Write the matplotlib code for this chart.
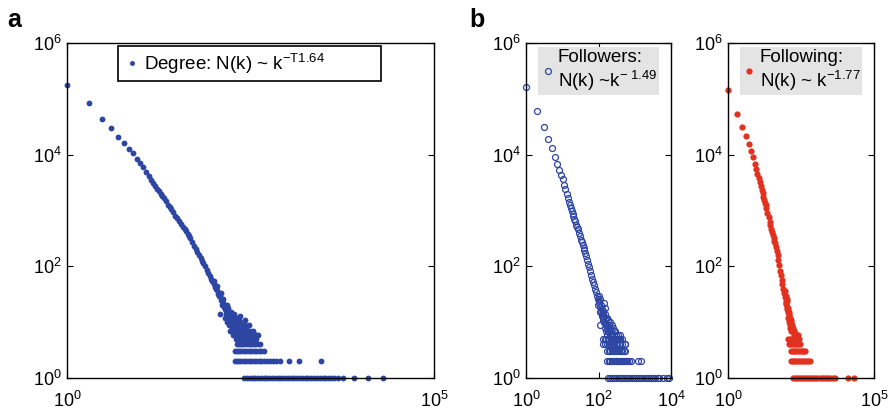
import matplotlib
matplotlib.use('Agg')
import matplotlib.pyplot as plt

plt.rcParams['font.family'] = ['Liberation Sans', 'DejaVu Sans']
plt.rcParams['mathtext.fontset'] = 'custom'
plt.rcParams['mathtext.rm'] = 'Liberation Sans'
plt.rcParams['mathtext.it'] = 'Liberation Sans:italic'
plt.rcParams['mathtext.bf'] = 'Liberation Sans:bold'

BLUE = '#2d46a4'
RED = '#e2321f'

# ---- panel a: degree ----
deg_curve_k = [1, 2, 3, 4, 5, 6, 7, 8, 9, 10, 11, 12, 13, 14, 15, 16, 17, 18, 19, 20, 21, 22,
               24, 25, 26, 28, 30, 32, 34, 36, 38, 40, 42, 44, 46, 48,
               51, 54, 57, 60, 63, 66, 69, 72, 76, 80, 84, 88, 92, 96, 100,
               105, 110, 115, 120, 126, 132, 138, 145, 152, 160, 168, 176, 185]
deg_curve_n = [178000, 83000, 43000, 30000, 21000, 16500, 12800, 10700, 8500, 7100,
               5900, 4900, 4200, 3550, 3100, 2750, 2450, 2200, 2000, 1800, 1650, 1500,
               1270, 1170, 1080, 930, 800, 720, 640, 570, 510, 465, 425, 385, 350, 316,
               275, 235, 205, 178, 160, 142, 126, 115, 100, 87, 77, 68, 60, 54, 48,
               42, 37, 32, 29, 25, 22, 19, 16, 14, 12, 11, 9, 8]
deg_scatter_k = [100, 108, 112, 120, 125, 130, 135, 140, 148, 155, 160, 165, 170, 175, 180,
                 190, 195, 200, 210, 215, 220, 230, 240, 250, 260, 275, 290, 310, 330, 360, 390,
                 118, 128, 140, 150, 150, 158, 165, 172, 182, 185, 188, 198, 205, 212, 225,
                 230, 235, 245, 255, 265, 270, 280, 300, 320, 345, 370, 400]
deg_scatter_n = [55, 40, 45, 14, 33, 20, 26, 17, 14, 18, 9, 13, 15, 8, 11,
                 12, 7, 10, 9, 6, 11, 8, 7, 9, 6, 8, 6, 7, 6, 6, 6,
                 30, 24, 12, 10, 20, 16, 7, 12, 9, 6, 14, 8, 12, 7, 10,
                 13, 6, 8, 7, 9, 11, 7, 9, 6, 7, 6, 6]
deg_row_levels = [5, 4, 3, 2, 1]
deg_rows = [
    [200, 210, 222, 235, 248, 262, 278, 295, 315, 335, 355, 380],
    [205, 218, 232, 246, 262, 280, 300, 322, 345, 370, 398, 425],
    [195, 208, 222, 238, 255, 275, 298, 322, 348, 378, 410, 445, 480],
    [195, 208, 222, 238, 256, 276, 298, 322, 348, 378, 410, 445, 485, 530, 580, 640, 700,
     800, 1070, 1450, 2880],
    [260, 285, 310, 340, 370, 400, 440, 480, 520, 570, 620, 680, 740, 810, 880, 960, 1050,
     1150, 1250, 1370, 1500, 1640, 1790, 1950, 2130, 2330, 2550, 2780, 3040, 3320, 3630,
     3970, 4340, 4900, 5700, 8100, 12500, 20400],
]

# ---- panel b, left: followers ----
fol_curve_k = [1, 2, 3, 4, 5, 6, 7, 8, 9, 10, 11, 12, 13, 14, 15, 16, 17, 18, 19, 20, 21, 22,
               24, 25, 26, 28, 30, 32, 34, 36, 38, 40, 42, 45, 48,
               51, 54, 58, 62, 66, 70, 75, 80, 85, 90, 96, 102, 108, 115, 122, 130, 138, 146,
               155, 165]
fol_curve_n = [166000, 60000, 31600, 19000, 12900, 9100, 6800, 5400, 4400, 3600,
               2920, 2390, 1990, 1680, 1430, 1235, 1095, 973, 869, 785, 711, 648,
               542, 498, 459, 396, 344, 302, 268, 239, 214, 193, 175, 153, 131,
               112, 98, 82, 69, 60, 53, 46, 40, 35, 30, 26, 22, 19, 16, 13, 11, 10, 8, 7, 6]
fol_scatter_k = [95, 105, 107, 110, 118, 125, 128, 135, 138, 145, 148, 155, 160, 170,
                 180, 185, 195, 200, 210, 224, 235, 250, 270, 290, 320, 355, 400, 525,
                 100, 112, 120, 130, 142, 152, 165, 175, 190, 205, 215, 230, 260, 280,
                 300, 340, 380, 450]
fol_scatter_n = [20, 24, 9, 15, 20, 17, 12, 14, 22, 11, 14, 9, 12, 8,
                 11, 7, 9, 6, 8, 7, 6, 8, 6, 7, 5, 5, 5, 4,
                 30, 26, 14, 16, 10, 18, 9, 12, 8, 10, 6, 9, 7, 5,
                 6, 6, 6, 5]
fol_row_levels = [5, 4, 3, 2, 1]
fol_rows = [
    [130, 145, 160, 178, 198, 220, 245, 272, 302, 335, 370, 400],
    [135, 150, 168, 188, 210, 235, 262, 292, 325, 362, 400, 445, 520],
    [170, 190, 212, 236, 263, 293, 326, 363, 404, 450, 500, 550],
    [170, 190, 212, 236, 263, 293, 326, 363, 404, 450, 500, 555, 620, 690, 760, 1200, 1510],
    [180, 205, 235, 270, 310, 355, 410, 470, 540, 620, 710, 815, 935, 1070, 1230, 1410,
     1620, 1860, 2130, 2450, 2810, 3220, 3700, 4250, 4800, 5900, 7600, 9100],
]

# ---- panel b, right: following ----
fwg_curve_k = [1, 2, 3, 4, 5, 6, 7, 8, 9, 10, 11, 12, 13, 14, 15, 16, 17, 18, 19, 20,
               22, 24, 26, 28, 30, 32, 34, 36, 38, 40, 43, 46, 49, 52, 56, 60, 64, 68, 72, 77,
               82, 87, 92, 97, 103, 109, 116, 123, 131, 140]
fwg_curve_n = [145000, 54000, 31600, 21900, 15500, 11500, 9100, 6900, 5500, 4520,
               3800, 3240, 2750, 2350, 2030, 1770, 1550, 1380, 1230, 1100,
               904, 752, 632, 543, 470, 411, 363, 321, 286, 257,
               222, 191, 157, 131, 104, 84, 69, 57, 48, 39,
               33, 28, 24, 21, 17, 15, 12, 10, 8, 7]
fwg_scatter_k = [88, 95, 100, 106, 112, 118, 125, 132, 140, 150, 158, 165, 175, 185, 195,
                 96, 104, 110, 120, 128, 136, 145, 155, 170, 180, 200, 220, 240]
fwg_scatter_n = [36, 22, 26, 19, 18, 13, 14, 11, 10, 8, 9, 7, 6, 7, 6,
                 30, 24, 16, 15, 12, 9, 11, 7, 8, 7, 6, 6, 6]
fwg_row_levels = [5, 4, 3, 2, 1]
fwg_rows = [
    [115, 130, 148, 168, 190, 215, 245, 275],
    [118, 135, 155, 178, 205, 235, 270, 290],
    [138, 160, 185, 215, 250, 290, 335, 380, 425],
    [138, 160, 185, 215, 250, 290, 335, 390, 450, 530, 630],
    [160, 190, 225, 265, 310, 365, 430, 510, 600, 700, 830, 980, 1150, 1360, 1600, 1880,
     2200, 2700, 3100, 3800, 4500, 13000, 20500],
]


def collect(curve_k, curve_n, scatter_k, scatter_n, levels, rows):
    k = list(curve_k) + list(scatter_k)
    n = list(curve_n) + list(scatter_n)
    for level, row in zip(levels, rows):
        k += row
        n += [level] * len(row)
    return k, n


def style_axis(axis, xmax, xticks):
    axis.set_xscale('log')
    axis.set_yscale('log')
    axis.set_xlim(1, xmax)
    axis.set_ylim(1, 1e6)
    axis.set_xticks(xticks)
    axis.set_yticks([1, 1e2, 1e4, 1e6])
    axis.minorticks_off()
    axis.tick_params(direction='in', top=True, right=True, length=4, width=0.8,
                     labelsize=13, colors='black')
    axis.tick_params(axis='x', pad=9)
    axis.tick_params(axis='y', pad=4)
    for spine in axis.spines.values():
        spine.set_linewidth(1.0)


def legend_b(axis):
    axis.legend(loc='upper center', borderaxespad=0.2, fontsize=13.5, fancybox=False,
                facecolor='#e4e4e4', edgecolor='none', framealpha=1, borderpad=0.1,
                handlelength=0.8, handletextpad=0.15)


figure = plt.figure(figsize=(8.92, 4.13), dpi=100)
ax_a = figure.add_axes([0.0751, 0.0847, 0.4114, 0.8112])
ax_b1 = figure.add_axes([0.5902, 0.0847, 0.1620, 0.8112])
ax_b2 = figure.add_axes([0.8165, 0.0847, 0.1633, 0.8112])

k, n = collect(deg_curve_k, deg_curve_n, deg_scatter_k, deg_scatter_n, deg_row_levels, deg_rows)
ax_a.plot(k, n, linestyle='none', marker='o', markersize=4.2, color=BLUE, markeredgewidth=0,
          clip_on=False, label='Degree: N(k) ~ k$^{\\mathregular{-T1.64}}$')
style_axis(ax_a, 1e5, [1, 1e5])
leg = ax_a.legend(loc='upper left', bbox_to_anchor=(0.139, 0.5, 0.717, 0.491), mode='expand',
                  borderaxespad=0, fontsize=13.5, frameon=True, fancybox=False,
                  edgecolor='black', framealpha=1, borderpad=0.3, handlelength=0.9,
                  handletextpad=0.2, markerscale=0.85)
leg.get_frame().set_linewidth(1.2)

k, n = collect(fol_curve_k, fol_curve_n, fol_scatter_k, fol_scatter_n, fol_row_levels, fol_rows)
ax_b1.plot(k, n, linestyle='none', marker='o', markersize=4.3, markerfacecolor='none',
           markeredgecolor=BLUE, markeredgewidth=0.9, clip_on=False,
           label='Followers:\nN(k) ~k$^{\\mathregular{-\\ 1.49}}$')
style_axis(ax_b1, 1e4, [1, 1e2, 1e4])
legend_b(ax_b1)

k, n = collect(fwg_curve_k, fwg_curve_n, fwg_scatter_k, fwg_scatter_n, fwg_row_levels, fwg_rows)
ax_b2.plot(k, n, linestyle='none', marker='o', markersize=4.5, color=RED, markeredgewidth=0,
           clip_on=False, label='Following:\nN(k) ~ k$^{\\mathregular{-1.77}}$')
style_axis(ax_b2, 1e5, [1, 1e5])
legend_b(ax_b2)

figure.text(0.008, 0.935, 'a', fontsize=18, fontweight='bold')
figure.text(0.526, 0.935, 'b', fontsize=18, fontweight='bold')

figure.savefig('out.png', dpi=100)
